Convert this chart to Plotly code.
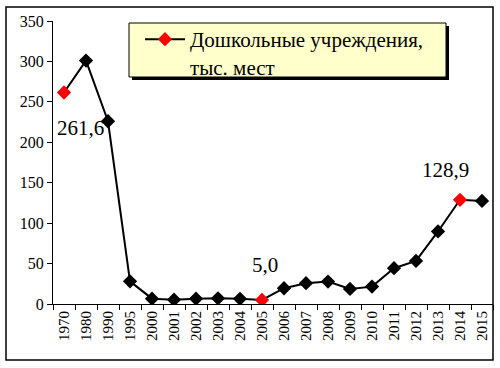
import plotly.graph_objects as go

years = ["1970", "1980", "1990", "1995", "2000", "2001", "2002", "2003", "2004", "2005",
         "2006", "2007", "2008", "2009", "2010", "2011", "2012", "2013", "2014", "2015"]
values = [261.6, 301, 226, 28, 6.6, 5.4, 6.6, 7, 6.4, 5.0,
          19.5, 25.7, 27.7, 18.6, 21.5, 44.3, 53.3, 89.7, 128.9, 127.5]
highlight_years = ["1970", "2005", "2014"]
labels = {"1970": "261,6", "2005": "5,0", "2014": "128,9"}
label_shift = {"1970": (16, -36), "2005": (3, 35), "2014": (-15, 30)}
series_name = "Дошкольные учреждения,<br>тыс. мест"

W, H = 500, 368
L, R, T, B = 53, 7, 21, 64
pw, ph = W - L - R, H - T - B

def px(x):
    return (x - L) / pw

def py(y):
    return (H - B - y) / ph

colors = ["#FF0000" if y in highlight_years else "#000000" for y in years]

font = "Liberation Serif, Times New Roman, serif"

fig = go.Figure()
fig.add_trace(go.Scatter(
    x=years, y=values, mode="lines+markers", name=series_name,
    line=dict(color="black", width=2),
    marker=dict(symbol="diamond", size=11, color=colors),
))

shapes = [
    # outer frame
    dict(type="rect", xref="paper", yref="paper", x0=px(6), x1=px(493), y0=py(360), y1=py(7),
         line=dict(color="black", width=1.5), fillcolor="rgba(0,0,0,0)", layer="above"),
    # legend shadow
    dict(type="rect", xref="paper", yref="paper", x0=px(132), x1=px(449), y0=py(80), y1=py(26),
         line=dict(width=0), fillcolor="black", layer="above"),
    # legend box
    dict(type="rect", xref="paper", yref="paper", x0=px(129), x1=px(446), y0=py(77), y1=py(23),
         line=dict(color="black", width=1), fillcolor="#FFFFCC", layer="above"),
]

annotations = []
for y in highlight_years:
    i = years.index(y)
    dx, dy = label_shift[y]
    annotations.append(dict(x=i, y=values[i], text=labels[y], showarrow=False,
                            xshift=dx, yshift=dy, font=dict(family=font, size=21, color="black")))

fig.update_layout(
    width=W, height=H,
    margin=dict(l=L, r=R, t=T, b=B, autoexpand=False),
    paper_bgcolor="white", plot_bgcolor="white",
    shapes=shapes, annotations=annotations,
    showlegend=True,
    legend=dict(x=px(140), y=py(19), xanchor="left", yanchor="top",
                bgcolor="rgba(0,0,0,0)", borderwidth=0, valign="top",
                font=dict(family=font, size=21, color="black"), itemwidth=40),
    xaxis=dict(type="category", range=[-0.5, len(years) - 0.5],
               showline=True, linecolor="black", linewidth=1,
               ticks="outside", ticklen=5, tickcolor="black", tickson="boundaries",
               tickangle=-90, showgrid=False, automargin=False,
               tickfont=dict(family=font, size=15, color="black")),
    yaxis=dict(range=[0, 350], dtick=50, showline=True, linecolor="black", linewidth=1,
               ticks="outside", ticklen=5, tickcolor="black", showgrid=False, zeroline=False,
               automargin=False,
               tickfont=dict(family=font, size=16, color="black")),
)

fig.write_html("out.html", config={"displayModeBar": False},
               post_script="document.body.style.margin='0';")
